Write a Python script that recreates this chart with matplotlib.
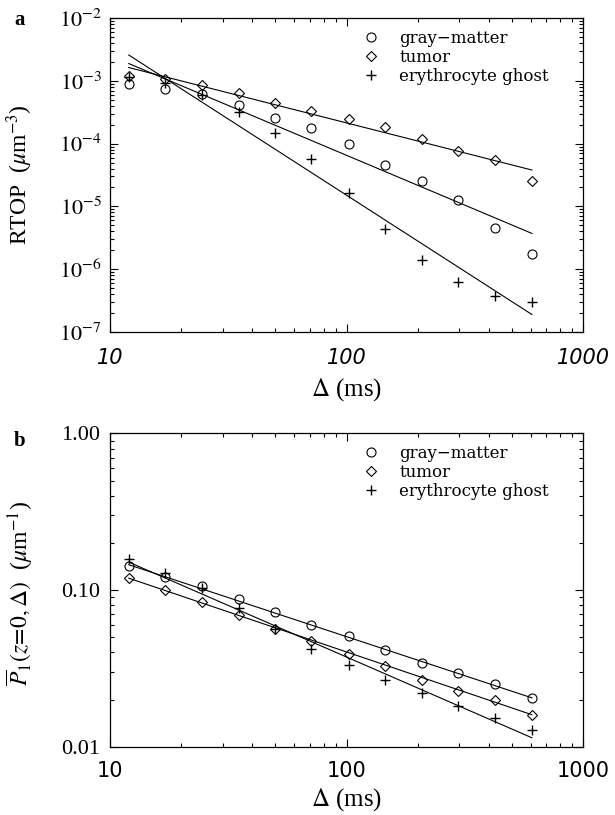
import matplotlib
matplotlib.use('Agg')
import matplotlib.pyplot as plt
from matplotlib.ticker import LogLocator, NullFormatter

plt.rcParams['mathtext.fontset'] = 'stix'
plt.rcParams['font.family'] = ['Liberation Serif', 'DejaVu Serif']

# diffusion times (ms)
delta = [12, 17, 24.5, 35, 50, 71, 102, 146, 208, 297, 424, 608]
fit_delta = [12, 608]

# panel a: RTOP (um^-3)
rtop_gray = [9.1e-4, 7.5e-4, 6.3e-4, 4.1e-4, 2.57e-4, 1.8e-4, 1.0e-4, 4.6e-5, 2.5e-5, 1.28e-5, 4.5e-6, 1.72e-6]
rtop_tumor = [1.2e-3, 1.06e-3, 8.5e-4, 6.4e-4, 4.4e-4, 3.3e-4, 2.5e-4, 1.87e-4, 1.17e-4, 7.6e-5, 5.4e-5, 2.5e-5]
rtop_ghost = [1.15e-3, 9.4e-4, 5.9e-4, 3.2e-4, 1.5e-4, 5.6e-5, 1.66e-5, 4.4e-6, 1.4e-6, 6.2e-7, 3.7e-7, 3.0e-7]
rtop_fit_gray = [1.9e-3, 3.7e-6]
rtop_fit_tumor = [1.64e-3, 3.8e-5]
rtop_fit_ghost = [2.6e-3, 1.88e-7]

# panel b: P1(z=0, delta) (um^-1)
p1_gray = [0.1425, 0.1205, 0.106, 0.0875, 0.0726, 0.0602, 0.0507, 0.0417, 0.0344, 0.0294, 0.0251, 0.0205]
p1_tumor = [0.119, 0.100, 0.0838, 0.0692, 0.0565, 0.0473, 0.0393, 0.0327, 0.0267, 0.0227, 0.0199, 0.016]
p1_ghost = [0.158, 0.129, 0.1026, 0.0763, 0.0568, 0.0423, 0.033, 0.0265, 0.0221, 0.0183, 0.0153, 0.0128]
p1_fit_gray = [0.145, 0.0205]
p1_fit_tumor = [0.119, 0.016]
p1_fit_ghost = [0.1507, 0.0114]

labels = ['gray\u2212matter', 'tumor', 'erythrocyte ghost']
rtop_ticks = [1e-7, 1e-6, 1e-5, 1e-4, 1e-3, 1e-2]
rtop_ticklabels = [r'$10^{-7}$', r'$10^{-6}$', r'$10^{-5}$', r'$10^{-4}$', r'$10^{-3}$', r'$10^{-2}$']
p1_ticks = [0.01, 0.1, 1.0]
p1_ticklabels = ['0.01', '0.10', '1.00']
x_ticks = [10, 100, 1000]
x_ticklabels = ['10', '100', '1000']

fig = plt.figure(figsize=(6.15, 8.15), dpi=100)
ax_a = fig.add_axes([0.1789, 0.593, 0.7691, 0.3845])
ax_b = fig.add_axes([0.1789, 0.0838, 0.7691, 0.3845])


def draw_panel(ax, gray, tumor, ghost, fgray, ftumor, fghost):
    ax.plot(delta, gray, 'o', mfc='none', mec='k', ms=6.5, mew=0.8, label=labels[0])
    ax.plot(delta, tumor, 'D', mfc='none', mec='k', ms=4.6, mew=0.8, label=labels[1])
    ax.plot(delta, ghost, '+', color='k', ms=7, mew=1.0, label=labels[2])
    for f in (fgray, ftumor, fghost):
        ax.plot(fit_delta, f, '-', color='k', lw=0.8)
    ax.set_xscale('log')
    ax.set_yscale('log')
    ax.set_xlim(10, 1000)
    ax.xaxis.set_minor_locator(LogLocator(base=10, subs=range(2, 10)))
    ax.xaxis.set_minor_formatter(NullFormatter())
    ax.yaxis.set_minor_locator(LogLocator(base=10, subs=range(2, 10), numticks=20))
    ax.yaxis.set_minor_formatter(NullFormatter())
    ax.tick_params(which='both', direction='in', top=True, right=True, width=0.8)
    ax.tick_params(which='major', length=6)
    ax.tick_params(which='minor', length=3)
    for s in ax.spines.values():
        s.set_linewidth(0.9)
    ax.legend(loc='upper left', bbox_to_anchor=(0.52, 0.985), frameon=False,
              handlelength=1.0, handletextpad=1.2, labelspacing=0.12,
              borderaxespad=0, prop={'family': 'DejaVu Serif', 'size': 12})


draw_panel(ax_a, rtop_gray, rtop_tumor, rtop_ghost, rtop_fit_gray, rtop_fit_tumor, rtop_fit_ghost)
ax_a.set_ylim(1e-7, 1e-2)
ax_a.set_yticks(rtop_ticks)
ax_a.set_yticklabels(rtop_ticklabels, fontsize=16)
ax_a.set_xticks(x_ticks)
ax_a.set_xticklabels(x_ticklabels, family='DejaVu Sans', style='italic', fontsize=15)
ax_a.tick_params(axis='x', which='major', pad=12)
ax_a.tick_params(axis='y', which='major', pad=6)
ax_a.set_xlabel(r'$\Delta$ (ms)', fontsize=18)
ax_a.set_ylabel(r'RTOP  ($\mu$m$^{-3}$)', fontsize=17)
ax_a.xaxis.set_label_coords(0.5, -0.142)
ax_a.yaxis.set_label_coords(-0.158, 0.5)

draw_panel(ax_b, p1_gray, p1_tumor, p1_ghost, p1_fit_gray, p1_fit_tumor, p1_fit_ghost)
ax_b.set_ylim(0.01, 1.0)
ax_b.set_yticks(p1_ticks)
ax_b.set_yticklabels(p1_ticklabels, fontsize=16)
ax_b.set_xticks(x_ticks)
ax_b.set_xticklabels(x_ticklabels, family='DejaVu Sans', fontsize=15)
ax_b.tick_params(axis='x', which='major', pad=10)
ax_b.tick_params(axis='y', which='major', pad=7)
ax_b.set_xlabel(r'$\Delta$ (ms)', fontsize=18)
ax_b.set_ylabel(r'$\overline{P}_{\mathit{1}}(z\!=\!\mathit{0},\Delta)$  ($\mu$m$^{-1}$)', fontsize=17)
ax_b.xaxis.set_label_coords(0.5, -0.127)
ax_b.yaxis.set_label_coords(-0.158, 0.49)

fig.text(20 / 615, 1 - 20 / 815, 'a', fontsize=15, fontweight='bold', ha='center', va='center')
fig.text(20 / 615, 1 - 441 / 815, 'b', fontsize=15, fontweight='bold', ha='center', va='center')

fig.savefig('out.png', dpi=100)
